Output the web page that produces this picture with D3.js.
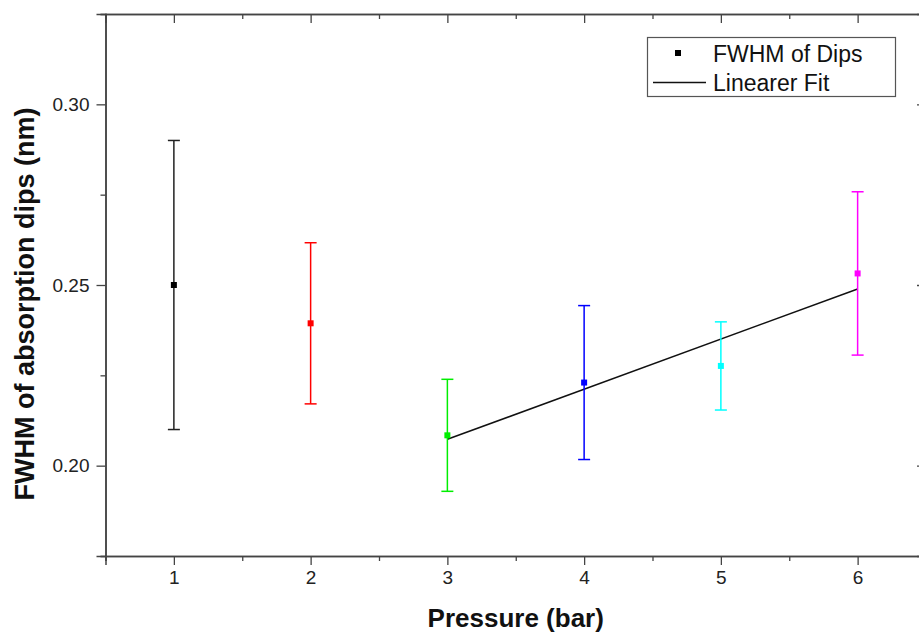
<!DOCTYPE html>
<html>
<head>
<meta charset="utf-8">
<script src="https://cdn.jsdelivr.net/npm/d3@7"></script>
<style>
    body { margin: 0; background: #fff; }
    svg { display: block; font-family: "Liberation Sans", Arial, sans-serif; }
</style>
</head>
<body>
<div id="chart"></div>
<script>
// Data
const pressures = [1, 2, 3, 4, 5, 6];
const fwhm = [0.2500, 0.2394, 0.2084, 0.2230, 0.2276, 0.2532];
const fwhmErr = [0.0400, 0.0223, 0.0155, 0.0213, 0.0122, 0.0226];
const pointColors = ['#222222', '#ff0000', '#00ee00', '#0000ff', '#00ffff', '#ff00ff'];
const fitX = [3, 6];
const fitY = [0.2073, 0.2489];
const xTicks = [1, 2, 3, 4, 5, 6];
const xMinorTicks = [0.5, 1.5, 2.5, 3.5, 4.5, 5.5, 6.5];
const yTicks = [0.20, 0.25, 0.30];
const yMinorTicks = [0.175, 0.225, 0.275, 0.325];
const legendLabels = ['FWHM of Dips', 'Linearer Fit'];

const FONT = '"Liberation Sans", Arial, sans-serif';
const width = 919, height = 636;
const margin = { left: 105.5, right: -7, top: 14, bottom: 80 };
const plotRight = width - margin.right;
const plotBottom = height - margin.bottom;

const svg = d3.select('#chart').append('svg')
    .attr('width', width)
    .attr('height', height);

const x = d3.scaleLinear().domain([0.5, 6.5]).range([margin.left, plotRight]);
const y = d3.scaleLinear().domain([0.175, 0.325]).range([plotBottom, margin.top]);

const axisColor = '#444';

// Bottom axis (outward ticks)
const gBottom = svg.append('g').attr('transform', `translate(0,${plotBottom})`);
gBottom.call(d3.axisBottom(x).tickValues(xTicks).tickFormat(d3.format('d')).tickSize(9).tickPadding(6));
gBottom.append('g').call(d3.axisBottom(x).tickValues(xMinorTicks).tickFormat('').tickSize(5));

// Left axis (outward ticks)
const gLeft = svg.append('g').attr('transform', `translate(${margin.left},0)`);
gLeft.call(d3.axisLeft(y).tickValues(yTicks).tickFormat(d3.format('.2f')).tickSize(9).tickPadding(7));
gLeft.append('g').call(d3.axisLeft(y).tickValues(yMinorTicks).tickFormat('').tickSize(5));

// Top axis (inward ticks)
const gTop = svg.append('g').attr('transform', `translate(0,${margin.top})`);
gTop.call(d3.axisTop(x).tickValues(xTicks).tickFormat('').tickSize(-9));
gTop.append('g').call(d3.axisTop(x).tickValues(xMinorTicks).tickFormat('').tickSize(-5));

// Right axis (inward ticks)
const gRight = svg.append('g').attr('transform', `translate(${plotRight},0)`);
gRight.call(d3.axisRight(y).tickValues(yTicks).tickFormat('').tickSize(-9));
gRight.append('g').call(d3.axisRight(y).tickValues(yMinorTicks).tickFormat('').tickSize(-5));

svg.selectAll('g').attr('font-family', FONT);
svg.selectAll('.domain').attr('stroke', axisColor).attr('stroke-width', 1.5);
svg.selectAll('.tick line').attr('stroke', axisColor).attr('stroke-width', 1.3);
svg.selectAll('.tick text').attr('fill', '#222').attr('font-size', '19px');

// Fit line
svg.append('line')
    .attr('x1', x(fitX[0])).attr('y1', y(fitY[0]))
    .attr('x2', x(fitX[1])).attr('y2', y(fitY[1]))
    .attr('stroke', '#111')
    .attr('stroke-width', 1.5);

// Error bars and points
const pts = pressures.map((p, i) => ({ p, v: fwhm[i], e: fwhmErr[i], c: pointColors[i] }));
const capW = 6;
const gPts = svg.append('g');
const pt = gPts.selectAll('g').data(pts).enter().append('g');
pt.append('line')
    .attr('x1', d => x(d.p)).attr('x2', d => x(d.p))
    .attr('y1', d => y(d.v - d.e)).attr('y2', d => y(d.v + d.e))
    .attr('stroke', d => d.c).attr('stroke-width', 1.5);
pt.append('line')
    .attr('x1', d => x(d.p) - capW).attr('x2', d => x(d.p) + capW)
    .attr('y1', d => y(d.v + d.e)).attr('y2', d => y(d.v + d.e))
    .attr('stroke', d => d.c).attr('stroke-width', 1.5);
pt.append('line')
    .attr('x1', d => x(d.p) - capW).attr('x2', d => x(d.p) + capW)
    .attr('y1', d => y(d.v - d.e)).attr('y2', d => y(d.v - d.e))
    .attr('stroke', d => d.c).attr('stroke-width', 1.5);
pt.append('rect')
    .attr('x', d => x(d.p) - 3).attr('y', d => y(d.v) - 3)
    .attr('width', 6).attr('height', 6)
    .attr('fill', (d, i) => i === 0 ? '#000' : d.c);

// Axis titles
svg.append('text')
    .attr('x', (margin.left + plotRight) / 2)
    .attr('y', 627)
    .attr('text-anchor', 'middle')
    .attr('font-family', FONT)
    .attr('font-size', '26px')
    .attr('font-weight', 'bold')
    .attr('fill', '#111')
    .text('Pressure (bar)');

svg.append('text')
    .attr('transform', 'translate(34,304) rotate(-90)')
    .attr('text-anchor', 'middle')
    .attr('font-family', FONT)
    .attr('font-size', '27px')
    .attr('font-weight', 'bold')
    .attr('fill', '#111')
    .text('FWHM of absorption dips (nm)');

// Legend
const legend = svg.append('g').attr('font-family', FONT);
legend.append('rect')
    .attr('x', 647.5).attr('y', 37.5)
    .attr('width', 248).attr('height', 59)
    .attr('fill', '#fff')
    .attr('stroke', '#555').attr('stroke-width', 1.2);
legend.append('rect')
    .attr('x', 675).attr('y', 50)
    .attr('width', 6).attr('height', 6)
    .attr('fill', '#000');
legend.append('line')
    .attr('x1', 653).attr('x2', 706)
    .attr('y1', 82.5).attr('y2', 82.5)
    .attr('stroke', '#111').attr('stroke-width', 1.5);
legend.selectAll('text.leg').data(legendLabels).enter().append('text')
    .attr('class', 'leg')
    .attr('x', 713)
    .attr('y', (d, i) => 62 + i * 29)
    .attr('font-size', '23px')
    .attr('fill', '#111')
    .text(d => d);
</script>
</body>
</html>
